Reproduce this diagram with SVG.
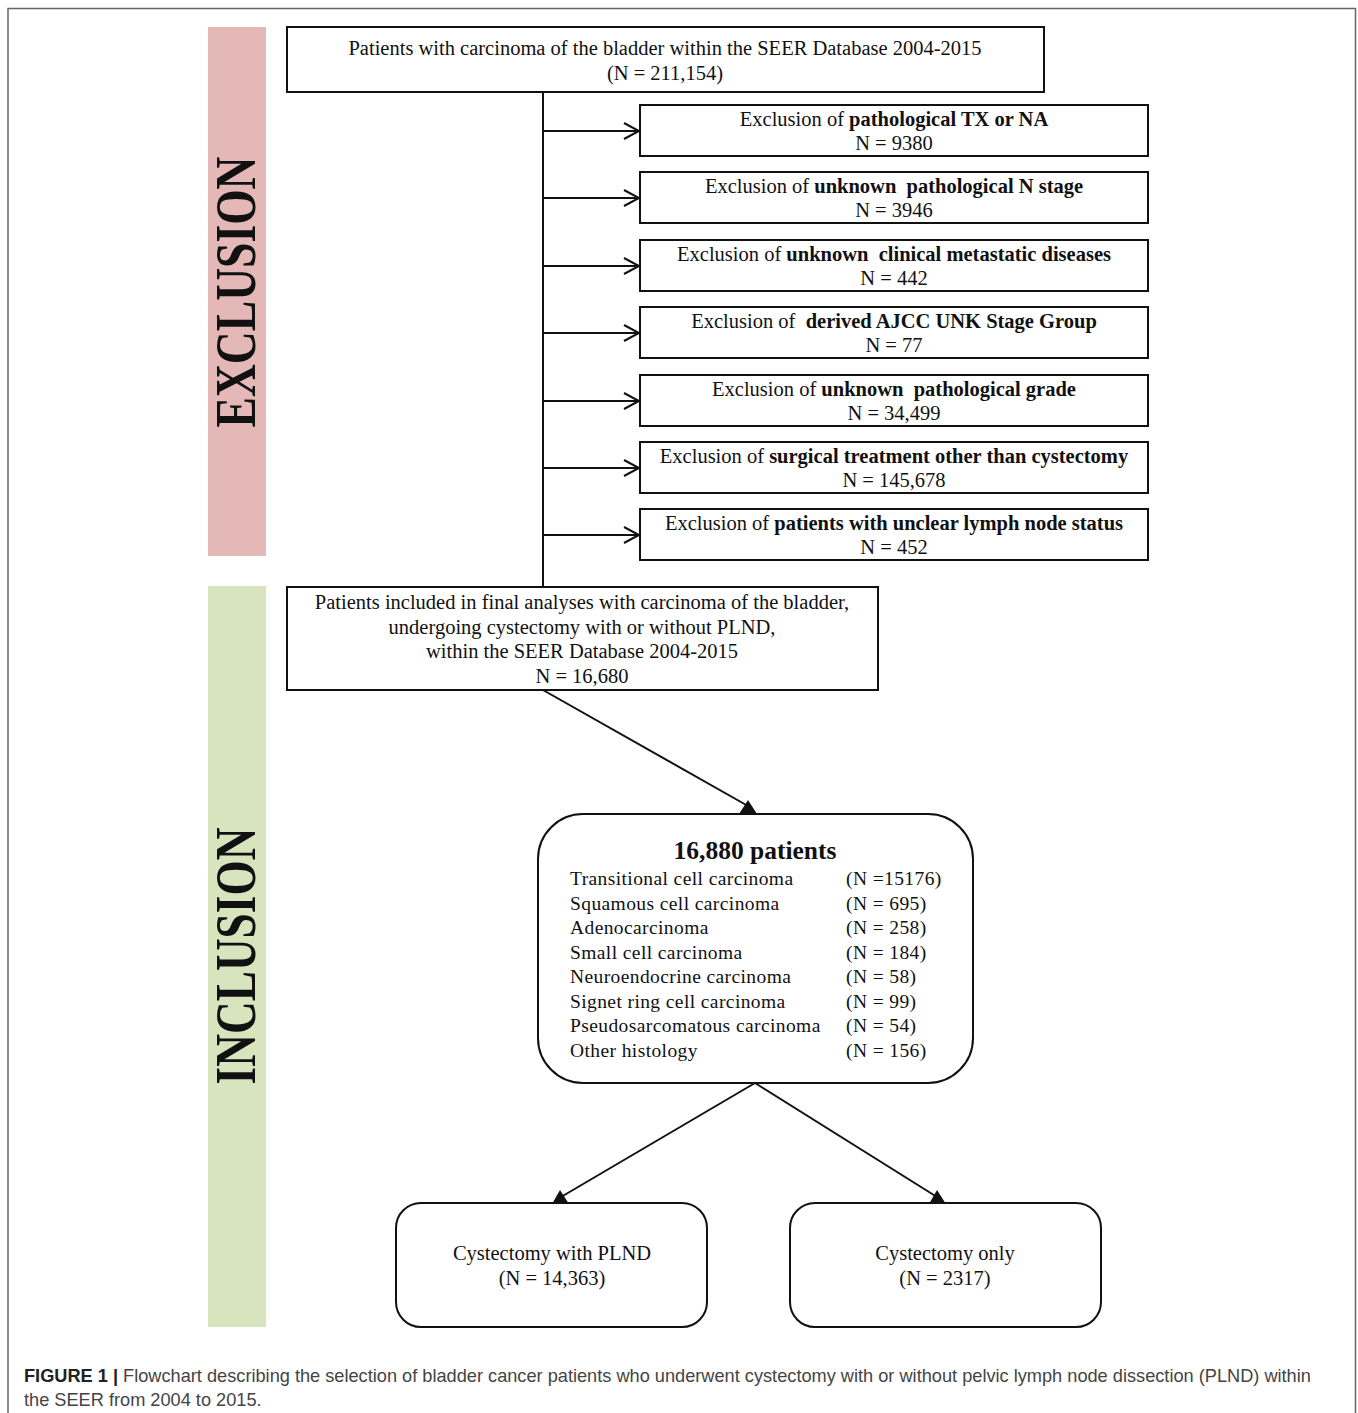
<svg xmlns="http://www.w3.org/2000/svg" width="1358" height="1413" viewBox="0 0 1358 1413">
<style>
.frame{fill:none;stroke:#666;stroke-width:1.5}
.box{fill:#fff;stroke:#111;stroke-width:2}
.t{font-family:"Liberation Serif","Times New Roman",serif;font-size:20.5px;fill:#111;text-anchor:middle}
.b{font-weight:bold}
.lst{font-family:"Liberation Serif","Times New Roman",serif;font-size:19.5px;fill:#111;letter-spacing:0.4px}
.side{font-family:"Liberation Serif","Times New Roman",serif;font-size:56px;font-weight:bold;fill:#111;text-anchor:middle}
.conn{stroke:#111;stroke-width:2;fill:none}
.cap{font-family:"Liberation Sans",Arial,sans-serif;font-size:18.2px;fill:#444}
</style>
<defs>
<marker id="open" markerWidth="20" markerHeight="20" refX="16" refY="9" orient="auto" markerUnits="userSpaceOnUse">
<path d="M1,1 L16,9 L1,17" fill="none" stroke="#111" stroke-width="2"/>
</marker>
</defs>
<rect width="1358" height="1413" fill="#fff"/>
<path class="frame" d="M8,1413 V8.5 H1355.5 V1413"/>

<g id="band-exclusion">
<rect x="208" y="27" width="58" height="529" fill="#e5b8b8"/>
<text class="side" transform="translate(255,292) rotate(-90)" textLength="271" lengthAdjust="spacingAndGlyphs">EXCLUSION</text>
</g>
<g id="band-inclusion">
<rect x="208" y="586" width="58" height="741" fill="#d7e4bd"/>
<text class="side" transform="translate(255,956) rotate(-90)" textLength="257" lengthAdjust="spacingAndGlyphs">INCLUSION</text>
</g>

<g id="connectors">
<line class="conn" x1="543" y1="92" x2="543" y2="587"/>
<line class="conn" x1="543" y1="131" x2="639" y2="131" marker-end="url(#open)"/>
<line class="conn" x1="543" y1="198" x2="639" y2="198" marker-end="url(#open)"/>
<line class="conn" x1="543" y1="266" x2="639" y2="266" marker-end="url(#open)"/>
<line class="conn" x1="543" y1="333" x2="639" y2="333" marker-end="url(#open)"/>
<line class="conn" x1="543" y1="401" x2="639" y2="401" marker-end="url(#open)"/>
<line class="conn" x1="543" y1="468" x2="639" y2="468" marker-end="url(#open)"/>
<line class="conn" x1="543" y1="535" x2="639" y2="535" marker-end="url(#open)"/>
<line class="conn" x1="543" y1="690" x2="748" y2="806"/>
<polygon points="739,814 757,814 748,800" fill="#111"/>
<line class="conn" x1="755" y1="1083" x2="561" y2="1197"/>
<polygon points="552,1204 569,1204 560,1190" fill="#111"/>
<line class="conn" x1="755" y1="1083" x2="937" y2="1197"/>
<polygon points="929,1204 946,1204 937,1190" fill="#111"/>
</g>

<g id="n-start">
<rect class="box" x="287" y="27" width="757" height="65"/>
<text class="t" x="665" y="55">Patients with carcinoma of the bladder within the SEER Database 2004-2015</text>
<text class="t" x="665" y="80">(N = 211,154)</text>
</g>

<g id="ex1">
<rect class="box" x="640" y="105" width="508" height="51"/>
<text class="t" x="894" y="126">Exclusion of <tspan class="b">pathological TX or NA</tspan></text>
<text class="t" x="894" y="150">N = 9380</text>
</g>
<g id="ex2">
<rect class="box" x="640" y="172" width="508" height="51"/>
<text class="t" x="894" y="193">Exclusion of <tspan class="b">unknown&#160; pathological N stage</tspan></text>
<text class="t" x="894" y="217">N = 3946</text>
</g>
<g id="ex3">
<rect class="box" x="640" y="240" width="508" height="51"/>
<text class="t" x="894" y="261">Exclusion of <tspan class="b">unknown&#160; clinical metastatic diseases</tspan></text>
<text class="t" x="894" y="285">N = 442</text>
</g>
<g id="ex4">
<rect class="box" x="640" y="307" width="508" height="51"/>
<text class="t" x="894" y="328">Exclusion of&#160; <tspan class="b">derived AJCC UNK Stage Group</tspan></text>
<text class="t" x="894" y="352">N = 77</text>
</g>
<g id="ex5">
<rect class="box" x="640" y="375" width="508" height="51"/>
<text class="t" x="894" y="396">Exclusion of <tspan class="b">unknown&#160; pathological grade</tspan></text>
<text class="t" x="894" y="420">N = 34,499</text>
</g>
<g id="ex6">
<rect class="box" x="640" y="442" width="508" height="51"/>
<text class="t" x="894" y="463">Exclusion of <tspan class="b">surgical treatment other than cystectomy</tspan></text>
<text class="t" x="894" y="487">N = 145,678</text>
</g>
<g id="ex7">
<rect class="box" x="640" y="509" width="508" height="51"/>
<text class="t" x="894" y="530">Exclusion of <tspan class="b">patients with unclear lymph node status</tspan></text>
<text class="t" x="894" y="554">N = 452</text>
</g>

<g id="n-included">
<rect class="box" x="287" y="587" width="591" height="103"/>
<text class="t" x="582" y="609">Patients included in final analyses with carcinoma of the bladder,</text>
<text class="t" x="582" y="634">undergoing cystectomy with or without PLND,</text>
<text class="t" x="582" y="658">within the SEER Database 2004-2015</text>
<text class="t" x="582" y="683">N = 16,680</text>
</g>

<g id="n-histology">
<rect class="box" x="538" y="814" width="435" height="269" rx="45" ry="45"/>
<text class="t b" x="755" y="859" style="font-size:25.5px">16,880 patients</text>
<text class="lst" x="570" y="885">Transitional cell carcinoma</text>
<text class="lst" x="570" y="910">Squamous cell carcinoma</text>
<text class="lst" x="570" y="934">Adenocarcinoma</text>
<text class="lst" x="570" y="959">Small cell carcinoma</text>
<text class="lst" x="570" y="983">Neuroendocrine carcinoma</text>
<text class="lst" x="570" y="1008">Signet ring cell carcinoma</text>
<text class="lst" x="570" y="1032">Pseudosarcomatous carcinoma</text>
<text class="lst" x="570" y="1057">Other histology</text>
<text class="lst" x="846" y="885">(N =15176)</text>
<text class="lst" x="846" y="910">(N = 695)</text>
<text class="lst" x="846" y="934">(N = 258)</text>
<text class="lst" x="846" y="959">(N = 184)</text>
<text class="lst" x="846" y="983">(N = 58)</text>
<text class="lst" x="846" y="1008">(N = 99)</text>
<text class="lst" x="846" y="1032">(N = 54)</text>
<text class="lst" x="846" y="1057">(N = 156)</text>
</g>

<g id="n-plnd">
<rect class="box" x="396" y="1203" width="311" height="124" rx="25" ry="25"/>
<text class="t" x="552" y="1260">Cystectomy with PLND</text>
<text class="t" x="552" y="1285">(N = 14,363)</text>
</g>
<g id="n-only">
<rect class="box" x="790" y="1203" width="311" height="124" rx="25" ry="25"/>
<text class="t" x="945" y="1260">Cystectomy only</text>
<text class="t" x="945" y="1285">(N = 2317)</text>
</g>

<g id="caption">
<text class="cap" x="24" y="1382"><tspan font-weight="bold" fill="#222">FIGURE 1 |</tspan> Flowchart describing the selection of bladder cancer patients who underwent cystectomy with or without pelvic lymph node dissection (PLND) within</text>
<text class="cap" x="24" y="1406">the SEER from 2004 to 2015.</text>
</g>
</svg>
